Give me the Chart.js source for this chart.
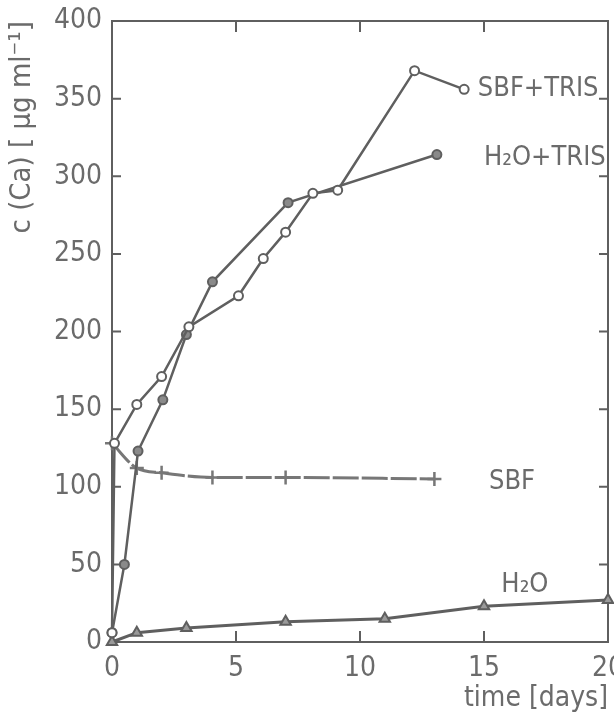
<!DOCTYPE html>
<html>
<head>
<meta charset="utf-8">
<script src="https://cdn.jsdelivr.net/npm/chart.js@4.4.1/dist/chart.umd.min.js"></script>
<style>
    html, body { margin: 0; padding: 0; background: #fff; }
    #wrap { width: 614px; height: 713px; position: relative; }
</style>
</head>
<body>
<div id="wrap"><canvas id="graph"></canvas></div>
<script>
// Données
const sbfTrisDays = [0, 0.1, 1, 2, 3.1, 5.1, 6.1, 7, 8.1, 9.1, 12.2, 14.2];
const sbfTrisCa = [6, 128, 153, 171, 203, 223, 247, 264, 289, 291, 368, 356];

const h2oTrisDays = [0, 0.5, 1.05, 2.05, 3, 4.05, 7.1, 13.1];
const h2oTrisCa = [6, 50, 123, 156, 198, 232, 283, 314];

const sbfDays = [0, 1, 2, 4.05, 7, 13];
const sbfCa = [128, 112, 109, 106, 106, 105];

const h2oDays = [0, 1, 3, 7, 11, 15, 20];
const h2oCa = [0, 6, 9, 13, 15, 23, 27];

const xTicks = [0, 5, 10, 15, 20];
const yTicks = [0, 50, 100, 150, 200, 250, 300, 350, 400];

// étiquettes des courbes (en unités des données)
const curveLabels = ['SBF+TRIS', 'H\u2082O+TRIS', 'SBF', 'H\u2082O'];
const curveLabelX = [14.75, 15.0, 15.2, 15.7];
const curveLabelY = [356, 312, 103, 37];

const ink = '#5f5f5f';
const textInk = '#6b6b6b';
const fontFam = "'DejaVu Sans', sans-serif";
const narrow = 'normal condensed'; // passe dans la chaîne ctx.font

function pts(xs, ys) {
    return xs.map((x, i) => ({ x: x, y: ys[i] }));
}

function noPad(s) {
    s.paddingLeft = 0;
    s.paddingRight = 0;
    s.paddingTop = 0;
    s.paddingBottom = 0;
}

// cadre + graduations intérieures
const framePlugin = {
    id: 'frame',
    beforeDatasetsDraw(chart) {
        const ctx = chart.ctx;
        const a = chart.chartArea;
        const sx = chart.scales.x;
        const sy = chart.scales.y;
        ctx.save();
        ctx.strokeStyle = ink;
        ctx.lineWidth = 2;
        ctx.strokeRect(a.left, a.top, a.right - a.left, a.bottom - a.top);
        ctx.beginPath();
        xTicks.slice(1, -1).forEach(v => {
            const px = sx.getPixelForValue(v);
            ctx.moveTo(px, a.bottom); ctx.lineTo(px, a.bottom - 11);
            ctx.moveTo(px, a.top); ctx.lineTo(px, a.top + 11);
        });
        yTicks.slice(1, -1).forEach(v => {
            const py = sy.getPixelForValue(v);
            ctx.moveTo(a.left, py); ctx.lineTo(a.left + 9, py);
            ctx.moveTo(a.right, py); ctx.lineTo(a.right - 9, py);
        });
        ctx.stroke();
        ctx.restore();
    },
    afterDatasetsDraw(chart) {
        const ctx = chart.ctx;
        const sx = chart.scales.x;
        const sy = chart.scales.y;
        ctx.save();
        ctx.fillStyle = textInk;
        ctx.font = narrow + ' 27px ' + fontFam;
        ctx.textAlign = 'left';
        ctx.textBaseline = 'middle';
        curveLabels.forEach((t, i) => {
            ctx.fillText(t, sx.getPixelForValue(curveLabelX[i]), sy.getPixelForValue(curveLabelY[i]));
        });
        ctx.restore();
    }
};

const ctx = document.getElementById('graph').getContext('2d');

new Chart(ctx, {
    type: 'line',
    data: {
        datasets: [{
            label: 'SBF+TRIS',
            data: pts(sbfTrisDays, sbfTrisCa),
            borderColor: ink,
            borderWidth: 2.5,
            pointStyle: 'circle',
            pointRadius: 4.5,
            pointBorderWidth: 2,
            pointBackgroundColor: '#fff',
            pointBorderColor: ink,
            clip: false
        }, {
            label: 'H2O+TRIS',
            data: pts(h2oTrisDays, h2oTrisCa),
            borderColor: ink,
            borderWidth: 2.5,
            pointStyle: 'circle',
            pointRadius: 4.5,
            pointBorderWidth: 2,
            pointBackgroundColor: '#8a8a8a',
            pointBorderColor: ink,
            clip: false
        }, {
            label: 'SBF',
            data: pts(sbfDays, sbfCa),
            borderColor: '#777',
            borderWidth: 3,
            borderDash: [26, 3],
            cubicInterpolationMode: 'monotone',
            pointStyle: 'cross',
            pointRadius: 7,
            pointBorderWidth: 2.5,
            pointBorderColor: '#777',
            clip: false
        }, {
            label: 'H2O',
            data: pts(h2oDays, h2oCa),
            borderColor: ink,
            borderWidth: 3,
            pointStyle: 'triangle',
            pointRadius: 6,
            pointBorderWidth: 2,
            pointBackgroundColor: '#9a9a9a',
            pointBorderColor: ink,
            clip: false
        }]
    },
    options: {
        responsive: true,
        maintainAspectRatio: false,
        animation: false,
        layout: {
            autoPadding: false,
            padding: { top: 21, right: 6, left: 0, bottom: 0 }
        },
        scales: {
            x: {
                type: 'linear',
                min: 0,
                max: 20,
                afterFit: s => { s.height = 71; noPad(s); },
                afterBuildTicks: s => { s.ticks = xTicks.map(v => ({ value: v })); },
                grid: { display: false, drawTicks: false },
                border: { display: false },
                ticks: {
                    color: textInk,
                    padding: 13,
                    maxRotation: 0,
                    font: { family: fontFam, weight: narrow, size: 28, lineHeight: 1 }
                },
                title: {
                    display: true,
                    text: 'time [days]',
                    align: 'end',
                    color: textInk,
                    padding: { top: 0, bottom: 0 },
                    font: { family: fontFam, weight: narrow, size: 28, lineHeight: 1 }
                }
            },
            y: {
                type: 'linear',
                min: 0,
                max: 400,
                afterFit: s => { s.width = 112; noPad(s); },
                afterBuildTicks: s => { s.ticks = yTicks.map(v => ({ value: v })); },
                grid: { display: false, drawTicks: false },
                border: { display: false },
                ticks: {
                    color: textInk,
                    padding: 10,
                    font: { family: fontFam, weight: narrow, size: 28, lineHeight: 1 }
                },
                title: {
                    display: true,
                    text: 'c (Ca) [ \u03bcg ml\u207b\u00b9]',
                    align: 'end',
                    color: textInk,
                    padding: { top: 8, bottom: 0 },
                    font: { family: fontFam, weight: narrow, size: 29, lineHeight: 1 }
                }
            }
        },
        plugins: {
            legend: { display: false },
            tooltip: { enabled: false }
        }
    },
    plugins: [framePlugin]
});
</script>
</body>
</html>
